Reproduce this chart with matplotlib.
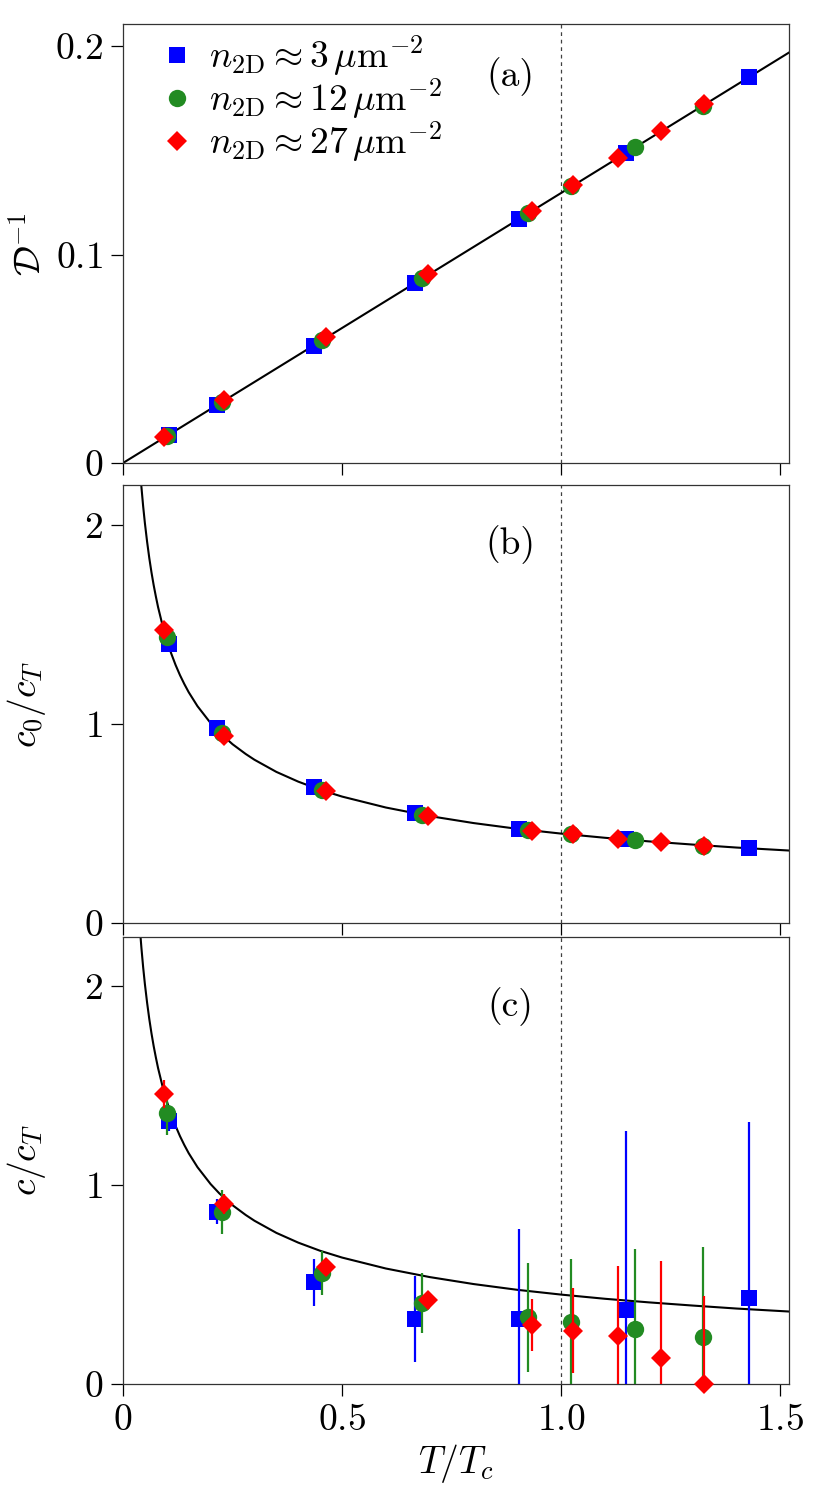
import matplotlib
matplotlib.use("Agg")
import matplotlib.pyplot as plt

plt.rcParams['mathtext.fontset'] = 'cm'
plt.rcParams['font.family'] = 'serif'
plt.rcParams['font.serif'] = ['cmr10', 'DejaVu Serif']
plt.rcParams['axes.formatter.use_mathtext'] = True

# temperatures T/Tc for each density
x3 = [0.106, 0.214, 0.435, 0.667, 0.903, 1.149, 1.429]
x12 = [0.100, 0.225, 0.454, 0.682, 0.924, 1.023, 1.169, 1.324]
x27 = [0.094, 0.231, 0.464, 0.697, 0.933, 1.028, 1.129, 1.228, 1.327]

# (a) inverse phase-space density
dinv3 = [0.0135, 0.0278, 0.0561, 0.0865, 0.1171, 0.1489, 0.1854]
dinv12 = [0.0128, 0.0294, 0.0590, 0.0886, 0.1200, 0.1329, 0.1516, 0.1715]
dinv27 = [0.0123, 0.0302, 0.0603, 0.0907, 0.1210, 0.1335, 0.1464, 0.1593, 0.1723]
line_a_x = [0.0, 1.52]
line_a_y = [0.0, 0.197]

# (b) c0/cT
c0_3 = [1.400, 0.981, 0.685, 0.551, 0.472, 0.420, 0.375]
c0_12 = [1.439, 0.953, 0.668, 0.543, 0.467, 0.445, 0.415, 0.388]
c0_27 = [1.472, 0.941, 0.665, 0.539, 0.464, 0.445, 0.422, 0.405, 0.388]

# (c) measured c/cT with error bars
c_3 = [1.32, 0.866, 0.511, 0.325, 0.327, 0.372, 0.434]
c_3_err = [0.05, 0.063, 0.117, 0.217, 0.45, 0.90, 0.88]
c_12 = [1.363, 0.863, 0.556, 0.405, 0.335, 0.310, 0.276, 0.238]
c_12_err = [0.11, 0.11, 0.11, 0.15, 0.273, 0.32, 0.40, 0.45]
c_27 = [1.457, 0.904, 0.586, 0.422, 0.296, 0.268, 0.241, 0.129, 0.0]
c_27_err = [0.07, 0.05, 0.04, 0.04, 0.13, 0.213, 0.35, 0.49, 0.444]

# theory curve
curve_x = [0.035, 0.038, 0.042, 0.046, 0.05, 0.055, 0.06, 0.065, 0.07, 0.075, 0.08,
           0.09, 0.1, 0.11, 0.12, 0.13, 0.14, 0.15, 0.17, 0.2, 0.22, 0.25, 0.28,
           0.3, 0.35, 0.4, 0.45, 0.5, 0.6, 0.7, 0.8, 0.9, 1.0, 1.1, 1.2, 1.3,
           1.4, 1.52]
curve_y = [2.400, 2.303, 2.191, 2.093, 2.008, 1.915, 1.833, 1.761, 1.697, 1.640,
           1.587, 1.497, 1.420, 1.354, 1.296, 1.245, 1.200, 1.159, 1.089, 1.004,
           0.957, 0.898, 0.849, 0.820, 0.759, 0.710, 0.669, 0.635, 0.580, 0.537,
           0.502, 0.473, 0.449, 0.428, 0.410, 0.394, 0.379, 0.364]

labels = [r'$n_{\rm 2D} \approx 3\,\mu{\rm m}^{-2}$',
          r'$n_{\rm 2D} \approx 12\,\mu{\rm m}^{-2}$',
          r'$n_{\rm 2D} \approx 27\,\mu{\rm m}^{-2}$']
colors = ['#0000ff', '#228b22', '#ff0000']
markers = ['s', 'o', 'D']
msizes = [11, 12.5, 10.5]

fs = 27
fig = plt.figure(figsize=(8.29, 14.92), dpi=100)
W, H = 829, 1492
def box(top, bottom):
    return [123 / W, 1 - bottom / H, 666 / W, (bottom - top) / H]

ax_a = fig.add_axes(box(24, 463))
ax_b = fig.add_axes(box(485, 923))
ax_c = fig.add_axes(box(937, 1384))

xs = [x3, x12, x27]

# panel a
ax_a.plot(line_a_x, line_a_y, color='k', lw=1.5, zorder=2)
for x, y, col, m, ms, lab in zip(xs, [dinv3, dinv12, dinv27], colors, markers, msizes, labels):
    ax_a.plot(x, y, ls='none', marker=m, ms=ms, color=col, mew=0, label=lab, zorder=3)

# panel b
ax_b.plot(curve_x, curve_y, color='k', lw=1.5, zorder=2)
for x, y, col, m, ms in zip(xs, [c0_3, c0_12, c0_27], colors, markers, msizes):
    ax_b.plot(x, y, ls='none', marker=m, ms=ms, color=col, mew=0, zorder=3)

# panel c
ax_c.plot(curve_x, curve_y, color='k', lw=1.5, zorder=2)
for x, y, e, col, m, ms in zip(xs, [c_3, c_12, c_27], [c_3_err, c_12_err, c_27_err],
                               colors, markers, msizes):
    ax_c.errorbar(x, y, yerr=e, fmt='none', ecolor=col, elinewidth=1.6, capsize=0, zorder=3)
    ax_c.plot(x, y, ls='none', marker=m, ms=ms, color=col, mew=0, zorder=3, clip_on=False)

for ax in [ax_a, ax_b, ax_c]:
    ax.set_xlim(0, 1.52)
    ax.axvline(1.0, color='0.25', lw=0.9, ls=(0, (3, 3)), zorder=1)
    ax.tick_params(direction='out', length=8.5, width=0.9, labelsize=fs, pad=6)
    for s in ax.spines.values():
        s.set_linewidth(0.9)
        s.set_color('0.2')
    ax.set_xticks([0, 0.5, 1.0, 1.5])

ax_a.set_ylim(0, 0.2107)
ax_a.set_yticks([0, 0.1, 0.2])
ax_a.set_yticklabels(['$0$', '$0.1$', '$0.2$'])
ax_b.set_ylim(0, 2.2)
ax_c.set_ylim(0, 2.245)
for ax in [ax_b, ax_c]:
    ax.set_yticks([0, 1, 2])
    ax.set_yticklabels(['$0$', '$1$', '$2$'])
ax_a.set_xticklabels([])
ax_b.set_xticklabels([])
ax_c.set_xticklabels(['$0$', '$0.5$', '$1.0$', '$1.5$'])

ax_a.set_ylabel(r'$\mathcal{D}^{-1}$', fontsize=fs)
ax_b.set_ylabel(r'$c_0/c_T$', fontsize=fs)
ax_c.set_ylabel(r'$c/c_T$', fontsize=fs)
ax_c.set_xlabel(r'$T/T_c$', fontsize=fs, labelpad=3)
for ax in [ax_a, ax_b, ax_c]:
    ax.yaxis.set_label_coords(-0.113, 0.5)

ax_a.text(0.581, 0.88, '(a)', transform=ax_a.transAxes, fontsize=fs, ha='center', va='center')
ax_b.text(0.581, 0.863, '(b)', transform=ax_b.transAxes, fontsize=fs, ha='center', va='center')
ax_c.text(0.581, 0.845, '(c)', transform=ax_c.transAxes, fontsize=fs, ha='center', va='center')

ax_a.legend(loc='upper left', bbox_to_anchor=(0.045, 1.0), frameon=False, fontsize=fs,
            handlelength=0.8, handletextpad=0.45, labelspacing=-0.05,
            borderaxespad=0.0, borderpad=0.25, numpoints=1)

fig.savefig('out.png', dpi=100)
